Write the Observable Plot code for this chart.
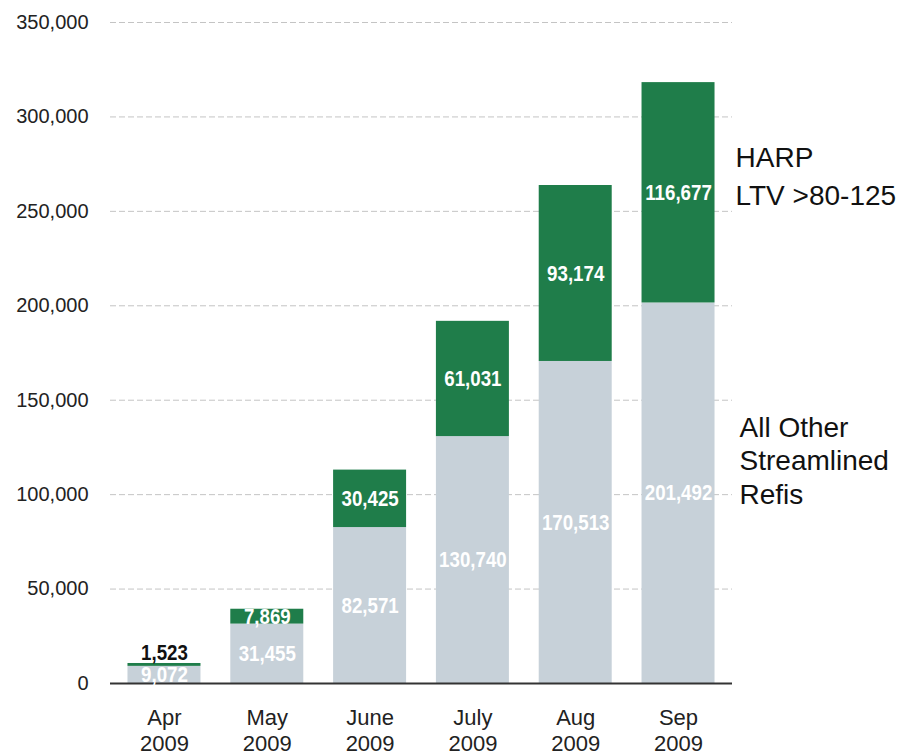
<!DOCTYPE html>
<html>
<head>
<meta charset="utf-8">
<script src="https://cdn.jsdelivr.net/npm/d3@7"></script>
<script src="https://cdn.jsdelivr.net/npm/@observablehq/plot@0.6"></script>
<style>
  html, body { margin: 0; padding: 0; background: #fff; }
  #chart svg { display: block; }
</style>
</head>
<body>
<div id="chart"></div>
<script>
const months = ["Apr\n2009", "May\n2009", "June\n2009", "July\n2009", "Aug\n2009", "Sep\n2009"];
const otherRefis = [9072, 31455, 82571, 130740, 170513, 201492];
const harp = [1523, 7869, 30425, 61031, 93174, 116677];
const seriesNames = ["All Other Streamlined Refis", "HARP LTV >80-125"];
const yTicks = [0, 50000, 100000, 150000, 200000, 250000, 300000, 350000];

const GREEN = "#1f7d4a";
const GREY = "#c7d1d9";

const rows = [];
months.forEach((m, i) => {
  rows.push({month: m, series: seriesNames[0], value: otherRefis[i], y1: 0, y2: otherRefis[i], idx: i});
  rows.push({month: m, series: seriesNames[1], value: harp[i], y1: otherRefis[i], y2: otherRefis[i] + harp[i], idx: i});
});
const fmt = d3.format(",");
const labelFont = "'Liberation Sans', Arial, sans-serif";

const insideLabels = rows.filter(d => !(d.idx === 0 && d.series === seriesNames[1]));
const topSmall = rows.filter(d => d.idx === 0 && d.series === seriesNames[1]);

const chart = Plot.plot({
  width: 903,
  height: 752,
  marginLeft: 110,
  marginRight: 171,
  marginTop: 22,
  marginBottom: 69,
  style: {fontFamily: "'Liberation Sans', Arial, sans-serif", background: "#fff", overflow: "visible"},
  x: {domain: months, paddingInner: 0.29, paddingOuter: 0.17, round: false},
  y: {domain: [0, 350000]},
  color: {domain: seriesNames, range: [GREY, GREEN]},
  marks: [
    Plot.ruleY(yTicks.filter(d => d > 0), {stroke: "#c4c4c4", strokeWidth: 1, strokeDasharray: "6,3"}),
    Plot.barY(rows, {x: "month", y1: "y1", y2: "y2", fill: "series"}),
    Plot.ruleY([0], {stroke: "#333", strokeWidth: 2}),
    Plot.axisY({ticks: yTicks, tickFormat: fmt, tickSize: 0, tickPadding: 22, fontSize: 20, fill: "#222", label: null}),
    Plot.axisX({tickSize: 0, tickPadding: 24, fontSize: 22, lineHeight: 1.15, fill: "#222", label: null}),
    Plot.text(insideLabels, {
      x: "month", y: d => (d.y1 + d.y2) / 2, text: d => fmt(d.value),
      fill: "white", fontSize: 22, fontWeight: "bold", fontFamily: labelFont, className: "narrow"
    }),
    Plot.text(topSmall, {
      x: "month", y: "y2", text: d => fmt(d.value), dy: -11,
      fill: "#111", fontSize: 22, fontWeight: "bold", fontFamily: labelFont, className: "narrow"
    }),
    Plot.text([seriesNames[1]], {
      x: () => months[5], y: () => 270000, dx: 57, text: () => "HARP\nLTV >80-125",
      textAnchor: "start", fontSize: 28, lineHeight: 1.36, fill: "#111"
    }),
    Plot.text([seriesNames[0]], {
      x: () => months[5], y: () => 118500, dx: 61, text: () => "All Other\nStreamlined\nRefis",
      textAnchor: "start", fontSize: 28, lineHeight: 1.2, fill: "#111"
    })
  ]
});
document.getElementById("chart").appendChild(chart);
// narrow the bar value labels to mimic the condensed typeface
d3.select(chart).selectAll("g.narrow text").each(function() {
  const w = this.getComputedTextLength();
  this.setAttribute("textLength", (w * 0.85).toFixed(1));
  this.setAttribute("lengthAdjust", "spacingAndGlyphs");
});
</script>
</body>
</html>
